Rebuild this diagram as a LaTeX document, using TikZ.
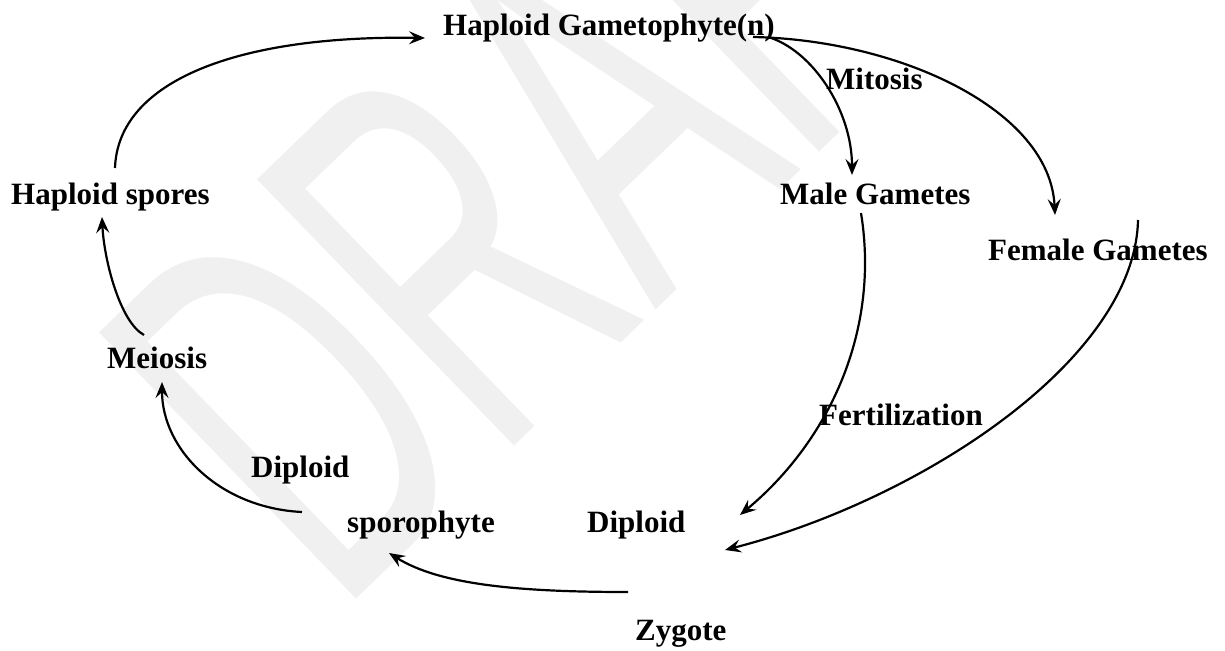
\documentclass[tikz,border=0pt]{standalone}
\usepackage{fontspec}
\setmainfont{Liberation Serif}
\newfontfamily\wmfont{Liberation Sans}
\usetikzlibrary{arrows.meta}
\tikzset{
  lbl/.style={anchor=base west, inner sep=0pt, font=\fontsize{31}{31}\selectfont\bfseries},
  arr/.style={line width=2.2pt, -{Stealth[length=16pt,width=13pt,inset=6pt]}},
  wm/.style={rotate=44, anchor=base west, inner sep=0pt, text=black!6, font=\fontsize{538}{538}\selectfont\wmfont}
}
\begin{document}
\begin{tikzpicture}[x=1pt,y=-1pt]
\useasboundingbox (0,0) rectangle (1225,650);
% watermark
\node[wm] (wmark) at (338,617) {\scalebox{0.567}[1]{DRAFT}};
% labels
\node[lbl] (gam) at (443,36) {Haploid Gametophyte(n)};
\node[lbl] (mit) at (826,90) {Mitosis};
\node[lbl] (hsp) at (11,204) {Haploid spores};
\node[lbl] (male) at (780,204) {Male Gametes};
\node[lbl] (fem) at (988,260) {Female Gametes};
\node[lbl] (mei) at (107,368) {Meiosis};
\node[lbl] (fert) at (819,425) {Fertilization};
\node[lbl] (dip1) at (251,477) {Diploid};
\node[lbl] (spo) at (347,532) {sporophyte};
\node[lbl] (dip2) at (587,532) {Diploid};
\node[lbl] (zyg) at (635,640) {Zygote};
% connector end points
\coordinate (hspT) at (115,168);
\coordinate (gamW) at (425,38);
\coordinate (meiT) at (144,335);
\coordinate (hspB) at (102,217);
\coordinate (spoL) at (302,512);
\coordinate (meiB) at (162,382);
\coordinate (zygT) at (628,592);
\coordinate (spoB) at (389,553);
\coordinate (gamE) at (768,37);
\coordinate (gamF) at (753,37);
\coordinate (maleT) at (852,175);
\coordinate (femT) at (1055,215);
\coordinate (maleB) at (861,213);
\coordinate (zygA) at (740,515);
\coordinate (femB) at (1138,220);
\coordinate (zygB) at (725,550);
% connectors
\draw[arr] (hspT) .. controls (118,80) and (240,35) .. (gamW);
\draw[arr] (meiT) .. controls (120,322) and (104,260) .. (hspB);
\draw[arr] (spoL) .. controls (220,508) and (162,450) .. (meiB);
\draw[arr] (zygT) .. controls (520,592) and (440,585) .. (spoB);
\draw[arr] (gamE) .. controls (812,50) and (852,110) .. (maleT);
\draw[arr] (gamF) .. controls (900,40) and (1050,110) .. (femT);
\draw[arr] (maleB) .. controls (880,330) and (830,440) .. (zygA);
\draw[arr] (femB) .. controls (1135,360) and (920,500) .. (zygB);
\end{tikzpicture}
\end{document}
